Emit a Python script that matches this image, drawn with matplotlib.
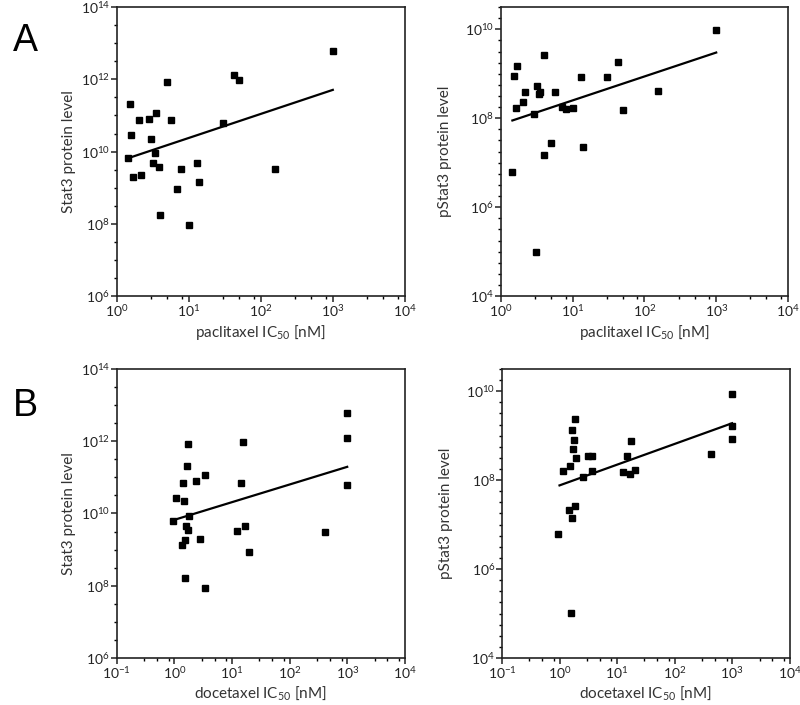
import numpy as np
import matplotlib
matplotlib.use("Agg")
import matplotlib.pyplot as plt
from matplotlib.ticker import FixedLocator, NullFormatter

plt.rcParams["font.family"] = ["Lato", "DejaVu Sans"]
plt.rcParams["mathtext.fontset"] = "custom"
plt.rcParams["mathtext.rm"] = "Lato"

# paclitaxel vs Stat3
pac_stat3_x = [1.45, 1.53, 1.58, 1.66, 2.02, 2.17, 2.8, 3.02, 3.47, 3.36, 3.18, 3.89, 3.94,
               5.02, 5.6, 6.9, 7.9, 10, 12.8, 13.9, 30, 42.6, 49.9, 155, 1000]
pac_stat3_y = [6.6e9, 2.1e11, 2.8e10, 1.95e9, 7.3e10, 2.2e9, 8.2e10, 2.3e10, 1.2e11, 8.9e9,
               4.8e9, 3.8e9, 1.8e8, 8.6e11, 7.3e10, 9.1e8, 3.3e9, 9.2e7, 4.9e9, 1.45e9,
               6.3e10, 1.3e12, 9.6e11, 3.3e9, 5.9e12]
pac_stat3_fit_x = [1.45, 1000]
pac_stat3_fit_y = [6.6e9, 5.1e11]

# paclitaxel vs pStat3
pac_pstat3_x = [1.45, 1.55, 1.61, 1.68, 2.01, 2.19, 2.86, 3.05, 3.18, 3.39, 3.5, 3.97, 3.97,
                5.07, 5.63, 7.1, 8.0, 10, 12.9, 13.9, 29.8, 42.8, 49.6, 155, 1000]
pac_pstat3_y = [6.3e6, 8.7e8, 1.74e8, 1.52e9, 2.3e8, 3.8e8, 1.26e8, 1.0e5, 5.4e8, 3.5e8,
                3.8e8, 2.7e9, 1.47e7, 2.8e7, 3.8e8, 1.8e8, 1.65e8, 1.67e8, 8.3e8, 2.3e7,
                8.5e8, 1.8e9, 1.5e8, 4.0e8, 9.5e9]
pac_pstat3_fit_x = [1.45, 1000]
pac_pstat3_fit_y = [8.9e7, 3.0e9]

# docetaxel vs Stat3
doc_stat3_x = [0.935, 1.07, 1.38, 1.42, 1.49, 1.51, 1.51, 1.57, 1.66, 1.71, 1.75, 1.78, 2.35,
               2.83, 3.37, 3.46, 12.1, 14.4, 15.6, 16.9, 19.4, 417, 1000, 1000, 1000]
doc_stat3_y = [6.2e9, 2.6e10, 1.33e9, 7.0e10, 2.2e10, 1.8e9, 1.65e8, 4.6e9, 2.1e11, 8.1e11,
               3.55e9, 8.7e9, 7.8e10, 2.0e9, 8.5e7, 1.17e11, 3.2e9, 7.0e10, 9.2e11, 4.6e9,
               8.5e8, 3.1e9, 5.9e12, 1.26e12, 6.2e10]
doc_stat3_fit_x = [0.95, 1000]
doc_stat3_fit_y = [6.5e9, 1.95e11]

# docetaxel vs pStat3
doc_pstat3_x = [0.95, 1.17, 1.49, 1.55, 1.65, 1.65, 1.6, 1.72, 1.79, 1.86, 1.88, 1.96, 2.59,
                3.07, 3.65, 3.65, 12.8, 15.1, 16.6, 17.7, 20.3, 422, 1000, 1000, 1000]
doc_pstat3_y = [6.1e6, 1.6e8, 2.1e7, 2.1e8, 1.4e7, 1.37e9, 1.05e5, 5.0e8, 7.9e8, 2.6e7,
                2.4e9, 3.2e8, 1.2e8, 3.5e8, 3.5e8, 1.58e8, 1.55e8, 3.5e8, 1.38e8, 7.7e8,
                1.7e8, 3.8e8, 8.7e9, 1.66e9, 8.2e8]
doc_pstat3_fit_x = [1.0, 1000]
doc_pstat3_fit_y = [7.6e7, 1.9e9]


def sup_label(v, pos=None):
    return r"$\mathregular{10^{%d}}$" % int(round(np.log10(v)))


def setup_panel(ax, xs, ys, fx, fy, xlim, ylim, ymajor, ystep, xlabel, ylabel, ylabelpad):
    ax.plot(xs, ys, "s", color="black", markersize=4.6, linestyle="none")
    ax.plot(fx, fy, color="black", linewidth=1.6)
    ax.set_xscale("log")
    ax.set_yscale("log")
    ax.set_xlim(xlim)
    ax.set_ylim(ylim)

    xmaj = [10.0 ** e for e in range(int(np.log10(xlim[0])), int(np.log10(xlim[1])) + 1)]
    ax.xaxis.set_major_locator(FixedLocator(xmaj))
    ax.xaxis.set_major_formatter(plt.FuncFormatter(sup_label))
    xmin = [m * d for d in xmaj[:-1] for m in (3, 5, 8)]
    ax.xaxis.set_minor_locator(FixedLocator(xmin))
    ax.xaxis.set_minor_formatter(NullFormatter())

    ax.yaxis.set_major_locator(FixedLocator(ymajor))
    ax.yaxis.set_major_formatter(plt.FuncFormatter(sup_label))
    lo, hi = np.log10(ylim[0]), np.log10(ylim[1])
    ymin = [10 ** v for v in np.arange(lo, hi + 1e-6, ystep)]
    ax.yaxis.set_minor_locator(FixedLocator(ymin))
    ax.yaxis.set_minor_formatter(NullFormatter())

    ax.tick_params(which="major", direction="out", length=4, width=1.1, labelsize=10,
                   colors="#222222", pad=1)
    ax.tick_params(which="minor", direction="out", length=2.5, width=1.0)
    for s in ax.spines.values():
        s.set_linewidth(1.2)
        s.set_color("#222222")

    ax.set_xlabel(xlabel, fontsize=11, color="#333333", labelpad=3)
    ax.set_ylabel(ylabel, fontsize=11, color="#333333", labelpad=ylabelpad)


fig = plt.figure(figsize=(8, 7.05), dpi=100)

ax1 = fig.add_axes([0.146, 0.580, 0.360, 0.410])
ax2 = fig.add_axes([0.626, 0.580, 0.359, 0.410])
ax3 = fig.add_axes([0.146, 0.0667, 0.360, 0.410])
ax4 = fig.add_axes([0.6275, 0.0667, 0.3595, 0.410])

stat3_ticks = [1e6, 1e8, 1e10, 1e12, 1e14]
pstat3_ticks = [1e4, 1e6, 1e8, 1e10]

setup_panel(ax1, pac_stat3_x, pac_stat3_y, pac_stat3_fit_x, pac_stat3_fit_y,
            (1, 1e4), (1e6, 1e14), stat3_ticks, 0.5,
            r"paclitaxel IC$_{\mathregular{50}}$ [nM]", "Stat3 protein level", 3)
setup_panel(ax2, pac_pstat3_x, pac_pstat3_y, pac_pstat3_fit_x, pac_pstat3_fit_y,
            (1, 1e4), (1e4, 10 ** 10.5), pstat3_ticks, 0.25,
            r"paclitaxel IC$_{\mathregular{50}}$ [nM]", "pStat3 protein level", 9)
setup_panel(ax3, doc_stat3_x, doc_stat3_y, doc_stat3_fit_x, doc_stat3_fit_y,
            (0.1, 1e4), (1e6, 1e14), stat3_ticks, 0.5,
            r"docetaxel IC$_{\mathregular{50}}$ [nM]", "Stat3 protein level", 3)
setup_panel(ax4, doc_pstat3_x, doc_pstat3_y, doc_pstat3_fit_x, doc_pstat3_fit_y,
            (0.1, 1e4), (1e4, 10 ** 10.5), pstat3_ticks, 0.25,
            r"docetaxel IC$_{\mathregular{50}}$ [nM]", "pStat3 protein level", 9)

fig.text(0.016, 0.942, "A", fontsize=27, family="Liberation Sans", va="center", ha="left")
fig.text(0.016, 0.424, "B", fontsize=27, family="Liberation Sans", va="center", ha="left")

fig.savefig("out.png", dpi=100)
